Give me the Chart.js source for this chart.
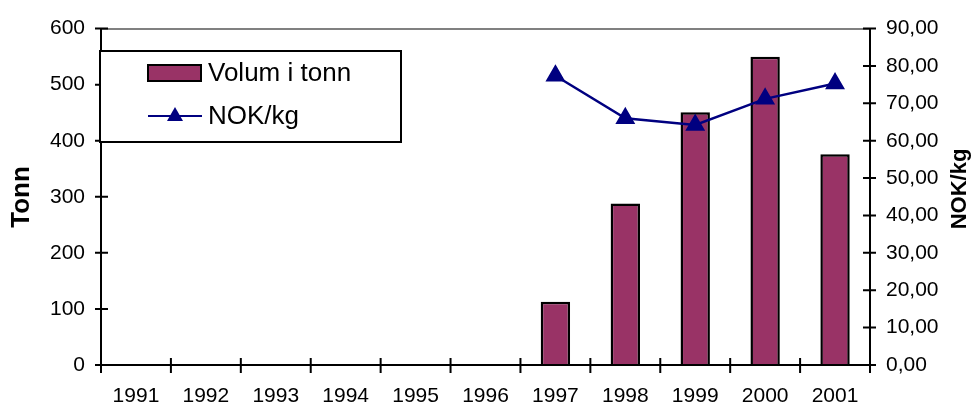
<!DOCTYPE html>
<html>
<head>
<meta charset="utf-8">
<script src="https://cdn.jsdelivr.net/npm/chart.js@4"></script>
<style>
  html, body { margin: 0; padding: 0; background: #fff; }
  #wrap { width: 973px; height: 406px; position: relative; }
</style>
</head>
<body>
<div id="wrap"><canvas id="chart"></canvas></div>
<script>
// Years on the category axis
const years = ['1991', '1992', '1993', '1994', '1995', '1996', '1997', '1998', '1999', '2000', '2001'];
// Volume in tonnes (bars, left axis)
const volumTonn = [null, null, null, null, null, null, 113, 288, 451, 550, 376];
// Price NOK per kg (line, right axis)
const nokPerKg = [null, null, null, null, null, null, 77.4, 66.0, 64.2, 71.2, 75.3];

const BAR_COLOR = '#993366';
const LINE_COLOR = '#000080';
const FONT = 'Arial, "Liberation Sans", sans-serif';

// axis lines, ticks crossing the axes, titles and the boxed legend
const frame = {
  id: 'frame',
  afterDatasetsDraw(chart) {
    const { ctx, chartArea: a, scales } = chart;
    ctx.save();
    ctx.strokeStyle = '#000';
    ctx.lineWidth = 2;
    ctx.setLineDash([]);
    ctx.beginPath();
    ctx.moveTo(a.left, a.top); ctx.lineTo(a.left, a.bottom);
    ctx.moveTo(a.right, a.top); ctx.lineTo(a.right, a.bottom);
    ctx.moveTo(a.left, a.bottom); ctx.lineTo(a.right, a.bottom);
    scales.y.ticks.forEach(t => {
      const py = scales.y.getPixelForValue(t.value);
      ctx.moveTo(a.left - 6, py); ctx.lineTo(a.left + 7, py);
    });
    scales.y1.ticks.forEach(t => {
      const py = scales.y1.getPixelForValue(t.value);
      ctx.moveTo(a.right - 7, py); ctx.lineTo(a.right + 6, py);
    });
    const step = scales.x.getPixelForTick(1) - scales.x.getPixelForTick(0);
    for (let i = 0; i <= years.length; i++) {
      const px = i < years.length ? scales.x.getPixelForTick(i) - step / 2 : a.right;
      ctx.moveTo(px, a.bottom - 7); ctx.lineTo(px, a.bottom + 8);
    }
    ctx.stroke();

    // axis titles, both reading bottom to top
    ctx.fillStyle = '#000';
    ctx.textAlign = 'center';
    ctx.textBaseline = 'middle';
    ctx.font = 'bold 26px ' + FONT;
    ctx.save();
    ctx.translate(22, 197);
    ctx.rotate(-Math.PI / 2);
    ctx.fillText('Tonn', 0, 0);
    ctx.restore();
    ctx.font = 'bold 22px ' + FONT;
    ctx.save();
    ctx.translate(960, 189);
    ctx.rotate(-Math.PI / 2);
    ctx.fillText('NOK/kg', 0, 0);
    ctx.restore();

    // legend box
    const bars = chart.data.datasets.find(d => d.type === 'bar');
    const line = chart.data.datasets.find(d => d.type === 'line');
    ctx.fillStyle = '#fff';
    ctx.fillRect(100, 51, 301, 91);
    ctx.strokeRect(100, 51, 301, 91);
    ctx.fillStyle = bars.backgroundColor;
    ctx.fillRect(148, 65, 53, 16);
    ctx.strokeRect(148, 65, 53, 16);
    ctx.strokeStyle = line.borderColor;
    ctx.beginPath();
    ctx.moveTo(148, 116); ctx.lineTo(202, 116);
    ctx.stroke();
    ctx.fillStyle = line.pointBackgroundColor;
    ctx.beginPath();
    ctx.moveTo(175, 107); ctx.lineTo(183, 121); ctx.lineTo(167, 121);
    ctx.closePath();
    ctx.fill();
    ctx.fillStyle = '#000';
    ctx.textAlign = 'left';
    ctx.font = '26px ' + FONT;
    ctx.fillText(bars.label, 208, 74);
    ctx.fillText(line.label, 208, 117);
    ctx.restore();
  }
};

new Chart(document.getElementById('chart'), {
  data: {
    labels: years,
    datasets: [
      {
        type: 'line',
        label: 'NOK/kg',
        data: nokPerKg,
        yAxisID: 'y1',
        borderColor: LINE_COLOR,
        borderWidth: 2.5,
        pointStyle: 'triangle',
        pointRadius: 9,
        pointBackgroundColor: LINE_COLOR,
        pointBorderColor: LINE_COLOR,
        tension: 0,
        order: 0
      },
      {
        type: 'bar',
        label: 'Volum i tonn',
        data: volumTonn,
        yAxisID: 'y',
        backgroundColor: BAR_COLOR,
        borderColor: '#000',
        borderWidth: 2.5,
        categoryPercentage: 1,
        barPercentage: 0.42,
        order: 1
      }
    ]
  },
  options: {
    responsive: true,
    maintainAspectRatio: false,
    animation: false,
    layout: { padding: { top: 24, left: 0, right: 0, bottom: 0 } },
    plugins: {
      legend: { display: false },
      tooltip: { enabled: false }
    },
    scales: {
      x: {
        offset: true,
        grid: { display: false },
        border: { display: false },
        ticks: { color: '#000', font: { family: FONT, size: 21 }, padding: 11, maxRotation: 0 },
        afterFit(s) { s.height = 41; }
      },
      y: {
        position: 'left',
        min: 0, max: 600,
        ticks: { stepSize: 100, color: '#000', font: { family: FONT, size: 21 }, padding: 16 },
        grid: {
          drawTicks: false,
          lineWidth: 2,
          color: c => (c.tick && c.tick.value === 600 ? '#808080' : 'transparent')
        },
        border: { display: false },
        afterFit(s) { s.width = 101; }
      },
      y1: {
        position: 'right',
        min: 0, max: 90,
        ticks: {
          stepSize: 10, color: '#000', font: { family: FONT, size: 21 }, padding: 16,
          callback: v => v.toFixed(2).replace('.', ',')
        },
        grid: { display: false, drawTicks: false },
        border: { display: false },
        afterFit(s) { s.width = 103; }
      }
    }
  },
  plugins: [frame]
});
</script>
</body>
</html>
